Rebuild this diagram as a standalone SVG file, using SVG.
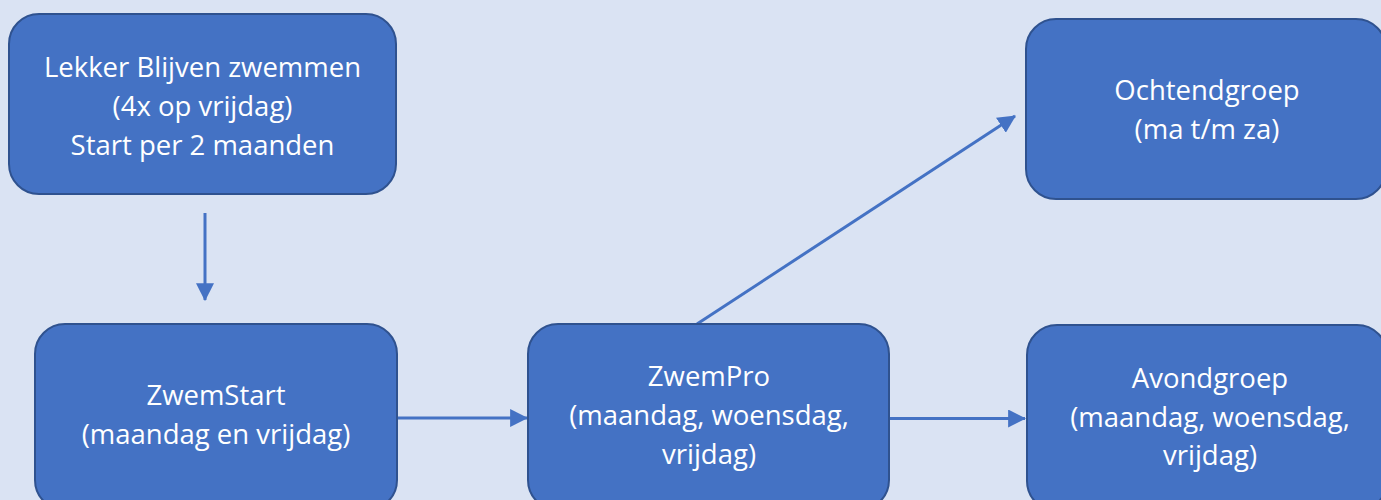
<svg xmlns="http://www.w3.org/2000/svg" width="1381" height="500" viewBox="0 0 1381 500">
  <style>
    .box { fill: #4472C4; stroke: #2F528F; stroke-width: 2; }
    .lbl { font-family: "Open Sans", "Liberation Sans", sans-serif; font-size: 27.5px; fill: #FFFFFF; text-anchor: middle; }
    .conn { stroke: #4472C4; stroke-width: 3; fill: none; marker-end: url(#arrow); }
  </style>
  <defs>
    <marker id="arrow" markerUnits="userSpaceOnUse" markerWidth="18" markerHeight="18" viewBox="0 0 16 16" refX="15" refY="8" orient="auto">
      <path d="M0,0 L16,8 L0,16 Z" fill="#4472C4"/>
    </marker>
  </defs>
  <rect width="1381" height="500" fill="#DAE3F3"/>

  <g id="connectors">
    <line class="conn" x1="205" y1="213" x2="205" y2="300"/>
    <line class="conn" x1="397" y1="418" x2="527" y2="418"/>
    <line class="conn" x1="889" y1="418.5" x2="1025" y2="418.5"/>
    <line class="conn" x1="697" y1="324" x2="1015" y2="116"/>
  </g>

  <g id="node-lekker">
    <rect class="box" x="9" y="14" width="387" height="180" rx="30"/>
    <text class="lbl" x="202.5" y="77">Lekker Blijven zwemmen</text>
    <text class="lbl" x="202.5" y="116">(4x op vrijdag)</text>
    <text class="lbl" x="202.5" y="155">Start per 2 maanden</text>
  </g>

  <g id="node-zwemstart">
    <rect class="box" x="35" y="324" width="362" height="186" rx="30"/>
    <text class="lbl" x="216" y="405">ZwemStart</text>
    <text class="lbl" x="216" y="444">(maandag en vrijdag)</text>
  </g>

  <g id="node-zwempro">
    <rect class="box" x="528" y="324" width="361" height="186" rx="30"/>
    <text class="lbl" x="709" y="386">ZwemPro</text>
    <text class="lbl" x="709" y="425">(maandag, woensdag,</text>
    <text class="lbl" x="709" y="464">vrijdag)</text>
  </g>

  <g id="node-ochtend">
    <rect class="box" x="1026" y="19" width="360" height="180" rx="30"/>
    <text class="lbl" x="1207" y="100">Ochtendgroep</text>
    <text class="lbl" x="1207" y="139">(ma t/m za)</text>
  </g>

  <g id="node-avond">
    <rect class="box" x="1027" y="325" width="360" height="186" rx="30"/>
    <text class="lbl" x="1210" y="388">Avondgroep</text>
    <text class="lbl" x="1210" y="427">(maandag, woensdag,</text>
    <text class="lbl" x="1210" y="465">vrijdag)</text>
  </g>
</svg>
